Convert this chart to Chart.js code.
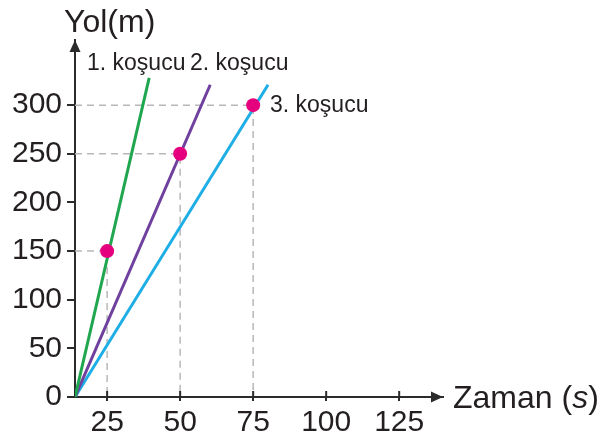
<!DOCTYPE html>
<html>
<head>
<meta charset="utf-8">
<script src="https://cdn.jsdelivr.net/npm/chart.js@4/dist/chart.umd.min.js"></script>
<style>
  html, body { margin: 0; padding: 0; background: #ffffff; }
  #wrap { width: 601px; height: 440px; }
</style>
</head>
<body>
<div id="wrap"><canvas id="c" width="601" height="440"></canvas></div>
<script>
// ---- data ----
const xStart = 14;                       // where the x axis meets the y axis
const xEnd = 140;                        // end of x axis (arrow tip)
const yEnd = 367;                        // end of y axis (arrow tip)
const xTicks = [25, 50, 75, 100, 125];
const yTicks = [0, 50, 100, 150, 200, 250, 300];
const runnerNames = ['1. koşucu', '2. koşucu', '3. koşucu'];
const runnerEndX = [39.4, 60.3, 80.1];
const runnerEndY = [328, 321, 321];
const markX = [25, 50, 75];
const markY = [150, 250, 300];
const xTitle = 'Zaman (s)';
const yTitle = 'Yol(m)';

const runnerColors = ['#1fa64f', '#6f409e', '#1eaee6'];
const markColor = '#e5007e';
const guideColor = '#b8b8b8';
const inkColor = '#231f20';
const FONT = '"Liberation Sans", Arial, Helvetica, sans-serif';

const datasets = [];
// marks (on top)
datasets.push({
  label: 'marks',
  data: markX.map((x, i) => ({ x: x, y: markY[i] })),
  showLine: false,
  pointRadius: 7,
  pointHoverRadius: 7,
  pointBackgroundColor: markColor,
  pointBorderWidth: 0,
  order: 1
});
// runner lines
runnerNames.forEach((name, i) => {
  datasets.push({
    label: name,
    data: [{ x: xStart, y: 0 }, { x: runnerEndX[i], y: runnerEndY[i] }],
    showLine: true,
    borderColor: runnerColors[i],
    borderWidth: 3,
    pointRadius: 0,
    tension: 0,
    order: 2
  });
});
// dashed guides
markX.forEach((x, i) => {
  datasets.push({
    label: 'guide' + i,
    data: [{ x: xStart, y: markY[i] }, { x: x, y: markY[i] }, { x: x, y: 0 }],
    showLine: true,
    borderColor: guideColor,
    borderWidth: 1.5,
    borderDash: [7, 5],
    pointRadius: 0,
    tension: 0,
    order: 3
  });
});

const decor = {
  id: 'decor',
  afterDraw(chart) {
    const ctx = chart.ctx;
    const xs = chart.scales.x, ys = chart.scales.y;
    const ox = xs.getPixelForValue(xStart);
    const oy = ys.getPixelForValue(0);
    const tx = xs.getPixelForValue(xEnd);
    const ty = ys.getPixelForValue(yEnd);
    ctx.save();
    ctx.fillStyle = '#2b2b2b';
    ctx.strokeStyle = '#2b2b2b';
    // arrowheads
    ctx.beginPath();
    ctx.moveTo(ox, ty);
    ctx.lineTo(ox - 5.5, ty + 12);
    ctx.lineTo(ox + 5.5, ty + 12);
    ctx.closePath();
    ctx.fill();
    ctx.beginPath();
    ctx.moveTo(tx, oy);
    ctx.lineTo(tx - 12, oy - 5.5);
    ctx.lineTo(tx - 12, oy + 5.5);
    ctx.closePath();
    ctx.fill();
    // upper part of x ticks
    ctx.lineWidth = 2;
    xTicks.forEach(v => {
      const p = xs.getPixelForValue(v);
      ctx.beginPath();
      ctx.moveTo(p, oy);
      ctx.lineTo(p, oy - 6);
      ctx.stroke();
    });
    // axis titles
    ctx.fillStyle = inkColor;
    ctx.textBaseline = 'alphabetic';
    ctx.textAlign = 'left';
    ctx.font = '32px ' + FONT;
    ctx.fillText(yTitle, 64, 32);
    // x title with italic s
    const parts = xTitle.match(/^(.*\()(.)(\).*)$/);
    let x0 = tx + 10;
    const by = oy + 11;
    ctx.font = '32px ' + FONT;
    ctx.fillText(parts[1], x0, by);
    x0 += ctx.measureText(parts[1]).width;
    ctx.font = 'italic 32px ' + FONT;
    ctx.fillText(parts[2], x0, by);
    x0 += ctx.measureText(parts[2]).width;
    ctx.font = '32px ' + FONT;
    ctx.fillText(parts[3], x0, by);
    // runner labels
    ctx.font = '23px ' + FONT;
    ctx.fillText(runnerNames[0], 87, 70);
    ctx.fillText(runnerNames[1], 190, 70);
    ctx.fillText(runnerNames[2], 270, 112);
    ctx.restore();
  }
};

new Chart(document.getElementById('c'), {
  type: 'scatter',
  data: { datasets: datasets },
  plugins: [decor],
  options: {
    responsive: false,
    animation: false,
    events: [],
    layout: { padding: { top: 40, right: 158, left: 0, bottom: 0 } },
    plugins: { legend: { display: false }, tooltip: { enabled: false } },
    scales: {
      x: {
        type: 'linear',
        min: xStart,
        max: xEnd,
        afterBuildTicks: s => { s.ticks = xTicks.map(v => ({ value: v })); },
        afterFit: s => { s.height = 43; },
        grid: { display: true, drawOnChartArea: false, drawTicks: true, tickLength: 4, color: '#2b2b2b', lineWidth: 2 },
        border: { display: true, color: '#2b2b2b', width: 2 },
        ticks: { color: inkColor, font: { family: FONT, size: 30 }, padding: 4, maxRotation: 0, autoSkip: false }
      },
      y: {
        type: 'linear',
        min: 0,
        max: yEnd,
        afterBuildTicks: s => { s.ticks = yTicks.map(v => ({ value: v })); },
        afterFit: s => { s.width = 75; },
        grid: { display: true, drawOnChartArea: false, drawTicks: true, tickLength: 8, color: '#2b2b2b', lineWidth: 2 },
        border: { display: true, color: '#2b2b2b', width: 2 },
        ticks: { color: inkColor, font: { family: FONT, size: 30 }, padding: 5, autoSkip: false }
      }
    }
  }
});
</script>
</body>
</html>
